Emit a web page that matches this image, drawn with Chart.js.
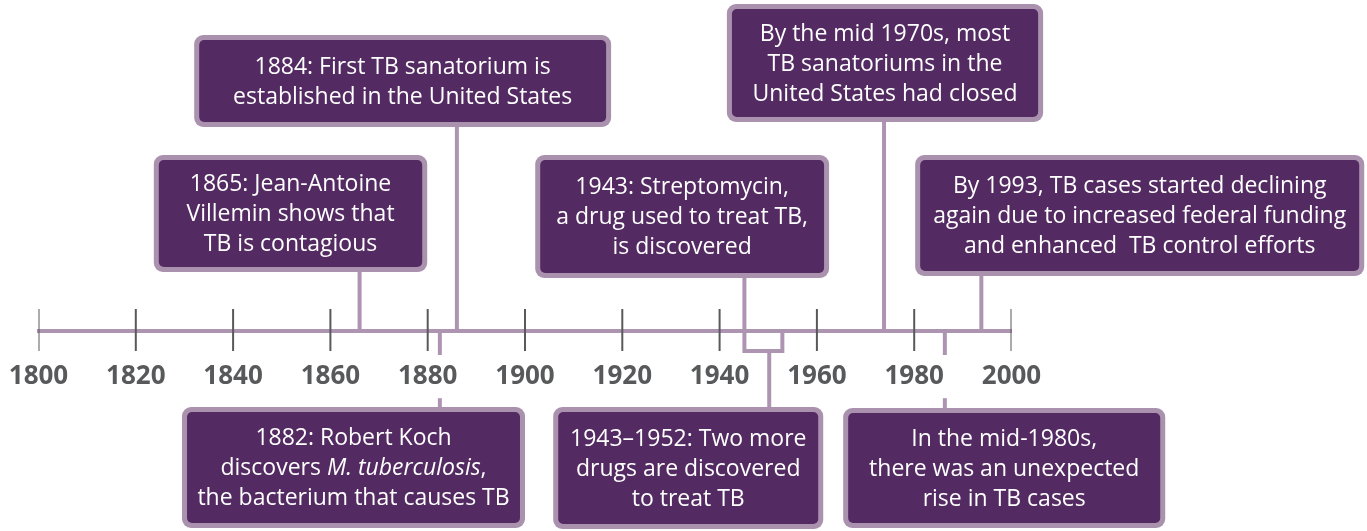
<!DOCTYPE html>
<html><head><meta charset="utf-8">
<script src="https://cdn.jsdelivr.net/npm/chart.js@4.4.1/dist/chart.umd.min.js"></script>
<style>html,body{margin:0;padding:0;background:#fff;overflow:hidden}#wrap{width:1367px;height:531px;position:relative}</style>
</head><body><div id="wrap"><canvas id="c"></canvas></div>
<script>
// ---- data ----
const tickYears = [1800, 1820, 1840, 1860, 1880, 1900, 1920, 1940, 1960, 1980, 2000];
const tickLabels = ['1800','1820','1840','1860','1880','1900','1920','1940','1960','1980','2000'];
const eventTexts = [
  ['1865: Jean-Antoine', 'Villemin shows that', 'TB is contagious'],
  ['1884: First TB sanatorium is', 'established in the United States'],
  ['1943: Streptomycin,', 'a drug used to treat TB,', 'is discovered'],
  ['By the mid 1970s, most', 'TB sanatoriums in the', 'United States had closed'],
  ['By 1993, TB cases started declining', 'again due to increased federal funding', 'and enhanced  TB control efforts'],
  ['1882: Robert Koch', 'discovers *M. tuberculosis*,', 'the bacterium that causes TB'],
  ['1943\u20131952: Two more', 'drugs are discovered', 'to treat TB'],
  ['In the mid-1980s,', 'there was an unexpected', 'rise in TB cases']
];
const eventSides = ['up', 'up', 'up', 'up', 'up', 'down', 'down', 'down'];
const connectorYears = [1866, 1886, 1945.1, 1973.8, 1993.8, 1882.5, 1950.2, 1986.3];
const bracketYears = [1945.1, 1952.9];

// ---- layout (in scale units: x = year, y = offset from the axis) ----
const boxLeftYear  = [1823.7, 1832.0, 1902.1, 1941.5, 1980.2, 1829.5, 1905.8, 1965.4];
const boxRightYear = [1879.9, 1917.7, 1962.5, 2006.5, 2072.5, 1900.0, 1961.3, 2031.6];
const boxTopY      = [176, 296, 176, 327, 176, -76, -76, -77];
const boxBottomY   = [59, 204, 53, 209, 55, -197, -198, -197];
const bracketDepth = -20;
const tickUp = 22, tickDown = -20;

const PURPLE_LINE = '#ad95b2';
const BOX_FILL = '#532a61';
const BOX_BORDER = '#aa92af';
const GREY = '#58595b';

// ---- datasets ----
const tickData = [];
tickYears.forEach(v => { tickData.push({x: v, y: tickUp}, {x: v, y: tickDown}, {x: v, y: null}); });

const datasets = [];
const lineDs = (data, color, width) => ({
  data, borderColor: color, borderWidth: width, pointRadius: 0, showLine: true,
  spanGaps: false, borderCapStyle: 'butt', borderJoinStyle: 'miter', tension: 0, fill: false
});
datasets.push(lineDs(tickData, GREY, 2));
connectorYears.forEach((yr, i) => {
  if (i === 2) {
    datasets.push(lineDs([
      {x: yr, y: boxBottomY[i]}, {x: bracketYears[0], y: bracketDepth},
      {x: bracketYears[1], y: bracketDepth}, {x: bracketYears[1], y: 0}
    ], PURPLE_LINE, 4));
  } else if (i === 6) {
    datasets.push(lineDs([{x: yr, y: bracketDepth}, {x: yr, y: boxTopY[i]}], PURPLE_LINE, 4));
  } else if (eventSides[i] === 'up') {
    datasets.push(lineDs([{x: yr, y: 0}, {x: yr, y: boxBottomY[i]}], PURPLE_LINE, 4));
  } else {
    datasets.push(lineDs([{x: yr, y: 0}, {x: yr, y: boxTopY[i]}], PURPLE_LINE, 4));
  }
});

const FONT = '"Open Sans", "Noto Sans", sans-serif';
const BOX_FONT_SIZE = 23, LINE_H = 30;

const boxPlugin = {
  id: 'boxes',
  afterDatasetsDraw(chart) {
    const {ctx, scales: {x, y}} = chart;
    eventTexts.forEach((lines, i) => {
      const l = x.getPixelForValue(boxLeftYear[i]), r = x.getPixelForValue(boxRightYear[i]);
      const t = y.getPixelForValue(boxTopY[i]), b = y.getPixelForValue(boxBottomY[i]);
      ctx.save();
      ctx.beginPath(); ctx.roundRect(l, t, r - l, b - t, 9); ctx.fillStyle = BOX_BORDER; ctx.fill();
      ctx.beginPath(); ctx.roundRect(l + 5, t + 5, r - l - 10, b - t - 10, 5); ctx.fillStyle = BOX_FILL; ctx.fill();
      const cx = (l + r) / 2, cy = (t + b) / 2;
      const n = lines.length;
      ctx.fillStyle = '#fff'; ctx.textAlign = 'left'; ctx.textBaseline = 'middle';
      lines.forEach((line, j) => {
        const runs = line.split('*').map((s, k) => ({t: s, it: k % 2 === 1})).filter(rr => rr.t.length);
        const fontFor = rr => (rr.it ? 'italic ' : '') + BOX_FONT_SIZE + 'px ' + FONT;
        let w = 0;
        runs.forEach(rr => { ctx.font = fontFor(rr); w += ctx.measureText(rr.t).width; });
        let xx = cx - w / 2;
        const yy = cy + (j - (n - 1) / 2) * LINE_H + 1;
        runs.forEach(rr => { ctx.font = fontFor(rr); ctx.fillText(rr.t, xx, yy); xx += ctx.measureText(rr.t).width; });
      });
      ctx.restore();
    });
  }
};

new Chart(document.getElementById('c'), {
  type: 'line',
  data: {datasets},
  options: {
    responsive: true, maintainAspectRatio: false, animation: false, events: [],
    devicePixelRatio: 1,
    layout: {padding: {left: 38.5, right: 355.5, top: 0, bottom: 0}},
    plugins: {legend: {display: false}, tooltip: {enabled: false}},
    scales: {
      y: {type: 'linear', display: false, min: -200, max: 331},
      x: {
        type: 'linear', min: 1800, max: 2000, position: {y: 0},
        afterBuildTicks: s => { s.ticks = tickYears.map(v => ({value: v})); },
        grid: {display: true, drawOnChartArea: false, drawTicks: true, tickLength: 30, tickColor: 'rgba(0,0,0,0)'},
        border: {display: true, color: PURPLE_LINE, width: 4},
        ticks: {
          callback: (v) => tickLabels[tickYears.indexOf(v)],
          font: {family: FONT, size: 26, weight: 'bold'}, color: GREY,
          padding: 0, maxRotation: 0, autoSkip: false,
          showLabelBackdrop: true, backdropColor: '#fff',
          backdropPadding: {top: 6, bottom: 6, left: 4, right: 4}, z: 1
        }
      }
    }
  },
  plugins: [boxPlugin]
});
</script></body></html>
